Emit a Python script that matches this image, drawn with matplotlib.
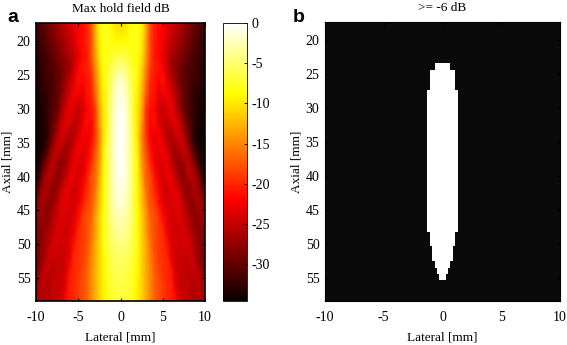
import numpy as np
import matplotlib
matplotlib.use("Agg")
import matplotlib.pyplot as plt

plt.rcParams['font.family'] = ['Liberation Serif', 'DejaVu Serif']
plt.rcParams['axes.unicode_minus'] = False

W, H = 567, 345

# half profile of the field, lateral 0..10 mm, mirrored for the left side
lateral_half = [0, 0.5, 1, 1.5, 2, 2.5, 3, 3.5, 4, 4.5, 5, 5.5, 6, 6.5, 7, 7.5, 8, 8.5, 9, 9.5, 10]
axial = [17.3, 20, 22, 24, 26, 28, 30, 32, 34, 36, 38, 40, 42, 44, 46, 48, 50, 52, 54, 56, 58.4]
field_half = [
    [-11, -10.5, -9, -8, -8, -9, -13, -18, -20.5, -21.5, -22, -23, -24, -25, -26, -27, -28, -29, -30, -31, -31],
    [-9, -9, -8.5, -8, -8, -9.5, -13.5, -18, -20.5, -21.5, -22, -24, -25, -26, -27, -28, -29, -30, -31, -32, -32],
    [-7, -7, -7.5, -8, -8.5, -10, -14, -18, -21, -21.5, -23, -25, -26, -27, -28, -29, -30, -31, -32, -32, -33],
    [-4, -4.5, -6, -7.5, -8.5, -11, -15, -19, -20.5, -21, -22, -24.5, -27, -28, -29, -30, -31, -31, -32, -33, -33],
    [-2, -2.5, -5, -7, -9, -12, -16, -20, -21, -22, -21, -23.5, -25, -27, -29, -30, -31, -32, -32, -33, -33],
    [-1, -1.5, -4, -7, -9.5, -12.5, -17, -20.5, -21, -23, -23, -22, -24, -26, -28, -30, -31, -32, -33, -33, -34],
    [-0.5, -1, -3.5, -7, -10, -13, -19, -21, -22, -24, -25, -24, -22.5, -25, -27, -30, -31, -32, -33, -34, -34],
    [0, -1, -3, -7, -10, -14, -19, -22, -21, -23, -25, -25, -24, -23, -25, -28, -30, -32, -33, -34, -34],
    [0, -1, -3, -6.5, -10, -15, -19, -22, -23, -22, -24, -26, -26, -25, -24, -26, -29, -32, -34, -34, -34],
    [0, -1, -3, -6, -9.5, -14.5, -18, -21, -23, -23, -22, -24, -26, -27, -25.5, -24.5, -26.5, -30, -33, -34, -34],
    [0, -1, -3, -6, -9, -14, -17, -20, -22, -24, -23.5, -23, -25, -27, -28, -26.5, -25, -27, -30, -33, -34],
    [-0.5, -1, -3, -6, -9, -13, -17, -18, -21, -23, -24, -23, -23, -25.5, -27, -28, -26, -25.5, -27, -31, -33],
    [-1, -1.5, -3, -6, -9, -12, -16, -18, -20, -22, -24, -24.5, -23.5, -23, -25, -27, -28, -26.5, -26, -28, -31],
    [-1.5, -2, -3.5, -6, -9, -12, -15, -18, -18.5, -21, -23, -24, -24, -23, -23.5, -25.5, -27, -28, -26.5, -26.5, -28],
    [-2.5, -3, -4, -6, -8.5, -11, -14, -17, -18, -19, -21.5, -23, -24.5, -24, -23.5, -24.5, -26, -27.5, -28, -27, -27],
    [-3.5, -3.5, -4.5, -6.5, -8.5, -11, -14, -16.5, -18, -19, -20, -22.5, -24, -24.5, -24, -24, -25, -26.5, -27.5, -28, -28],
    [-4.5, -4.5, -5.5, -6.5, -8.5, -11, -13, -16, -18, -19, -19.5, -21, -23.5, -24, -24.5, -24, -24, -25.5, -27, -28, -28],
    [-5.5, -5.5, -6, -7, -9, -11, -13, -15.5, -17.5, -19, -19.5, -20, -23, -24.5, -25, -25, -24.5, -24.5, -26.5, -28, -29],
    [-6, -6, -6.5, -7.5, -9, -11, -13, -15, -17, -18.5, -19.5, -20, -21, -24, -25, -25, -25.5, -25, -25, -27, -28],
    [-6.5, -6.5, -7, -8, -9.5, -11, -13, -15, -17, -18, -19, -20, -20.5, -23, -25, -25, -25, -26, -25, -25.5, -27],
    [-7, -7, -7.5, -8, -9.5, -11, -13, -15, -17, -18, -19, -20, -20.5, -21.5, -24, -25, -25, -26, -26, -26, -26],
]

# -6 dB region, stepped outline
mask_axial = [23.4, 24.4, 27.3, 48.3, 50.3, 52.5, 53.5, 54.4, 55.3]
mask_halfwidth = [0.68, 1.06, 1.3, 1.07, 0.88, 0.62, 0.45, 0.28, 0.28]

xticks = [-10, -5, 0, 5, 10]
yticks = [20, 25, 30, 35, 40, 45, 50, 55]
cticks = [0, -5, -10, -15, -20, -25, -30]


def px_axes(l, t, r, b):
    return fig.add_axes([l / W, 1 - b / H, (r - l) / W, (b - t) / H])


def style(ax, title):
    ax.set_xlim(-10, 10)
    ax.set_ylim(58.4, 17.3)
    ax.set_xticks(xticks)
    ax.set_yticks(yticks)
    ax.tick_params(direction='in', length=2, width=0.8, labelsize=10, pad=7,
                   top=True, right=True)
    ax.tick_params(axis='y', pad=4)
    ax.set_xlabel("Lateral [mm]", fontsize=9.5, labelpad=5.5)
    ax.set_ylabel("Axial [mm]", fontsize=9.5, labelpad=2)
    ax.set_title(title, fontsize=9.5, pad=8)


fig = plt.figure(figsize=(W / 100, H / 100), dpi=100)

x_full = np.concatenate([-np.array(lateral_half[:0:-1]), lateral_half])
half = np.array(field_half)
field = np.hstack([half[:, :0:-1], half])

ax1 = px_axes(36, 23, 205, 301)
mesh = ax1.pcolormesh(x_full, axial, field, cmap='hot', vmin=-34.6, vmax=0, shading='gouraud')
style(ax1, "Max hold field dB")
for s in ax1.spines.values():
    s.set_linewidth(1.2)

cax = px_axes(223, 23, 247, 301)
cb = fig.colorbar(mesh, cax=cax)
cb.set_ticks(cticks)
cb.ax.tick_params(direction='in', length=2, width=0.6, labelsize=10, pad=3)
cb.outline.set_linewidth(0.6)

ax2 = px_axes(325, 22, 560, 301)
ax2.set_facecolor('#0a0a0a')
ax2.fill_betweenx(mask_axial, -np.array(mask_halfwidth), mask_halfwidth,
                  step='post', color='white', lw=0)
style(ax2, ">= -6 dB")

fig.text(7 / W, 1 - 22 / H, "a", family='Liberation Sans', weight='bold', fontsize=14)
fig.text(293 / W, 1 - 22 / H, "b", family='Liberation Sans', weight='bold', fontsize=14)

fig.savefig("out.png", dpi=100)
